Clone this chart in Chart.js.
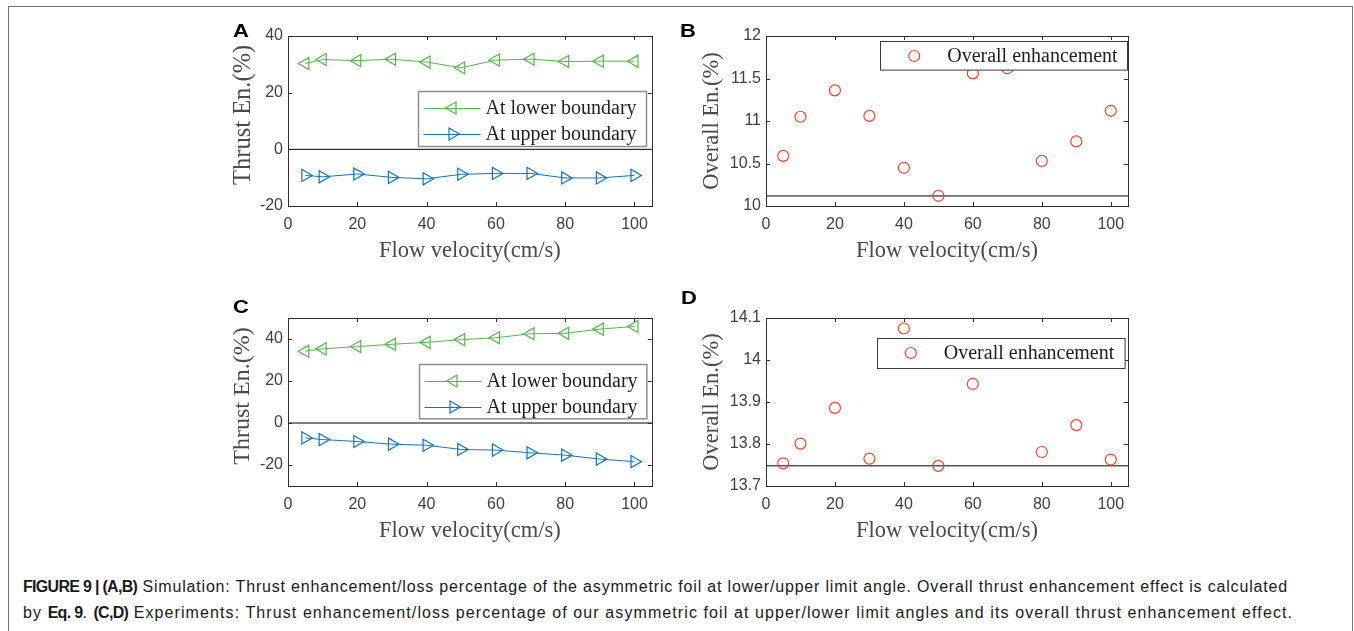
<!DOCTYPE html>
<html><head><meta charset="utf-8">
<script src="https://cdn.jsdelivr.net/npm/chart.js@4/dist/chart.umd.min.js"></script>
<style>
html,body{margin:0;padding:0;background:#fff;}
#page{position:relative;width:1354px;height:631px;overflow:hidden;background:#fff;}
#frame{position:absolute;left:8px;top:6px;width:1345px;height:700px;border:1px solid #737373;box-sizing:border-box;}
canvas{position:absolute;}
.plabel{position:absolute;font:bold 18px "Liberation Sans",Arial,sans-serif;color:#000;line-height:18px;transform:scaleX(1.22);transform-origin:0 0;}
#caption{position:absolute;left:23px;top:574px;font:16px "Liberation Sans",Arial,sans-serif;color:#1a1a1a;line-height:26px;white-space:nowrap;}
#caption b{font-size:16px;letter-spacing:-0.7px;}
</style></head>
<body><div id="page">
<div id="frame"></div>
<canvas id="cA" width="440" height="250" style="left:220px;top:20px"></canvas>
<canvas id="cB" width="450" height="250" style="left:690px;top:20px"></canvas>
<canvas id="cC" width="440" height="260" style="left:220px;top:290px"></canvas>
<canvas id="cD" width="450" height="260" style="left:690px;top:290px"></canvas>
<div class="plabel" style="left:233px;top:22px">A</div>
<div class="plabel" style="left:680px;top:22px">B</div>
<div class="plabel" style="left:233px;top:298px">C</div>
<div class="plabel" style="left:681px;top:289px">D</div>
<div id="caption">
<div class="ln" data-right="1288"><span class="w"><b>FIGURE 9 | (A,B)</b><span class="r"> Simulation: Thrust enhancement/loss percentage of the asymmetric foil at lower/upper limit angle. Overall thrust enhancement effect is calculated</span></span></div>
<div class="ln" data-right="1293"><span class="w"><span class="r">by </span><b>Eq. 9</b><span class="r">. </span><b>(C,D)</b><span class="r"> Experiments: Thrust enhancement/loss percentage of our asymmetric foil at upper/lower limit angles and its overall thrust enhancement effect.</span></span></div>
</div>
</div>
<script>
// ---- data ----
const velocity   = [5, 10, 20, 30, 40, 50, 60, 70, 80, 90, 100];
const simLower   = [30.3, 31.7, 31.3, 31.8, 30.8, 28.8, 31.5, 31.8, 31.0, 31.1, 31.1];
const simUpper   = [-9.2, -9.7, -8.7, -9.9, -10.4, -8.8, -8.5, -8.5, -10.1, -10.1, -9.2];
const simOverall = [10.59, 11.05, 11.36, 11.06, 10.45, 10.12, 11.56, 11.62, 10.53, 10.76, 11.12];
const expLower   = [34.2, 35.3, 36.4, 37.5, 38.4, 39.7, 40.6, 42.5, 42.7, 44.7, 46.0];
const expUpper   = [-7.1, -7.9, -8.8, -10.1, -10.6, -12.6, -12.9, -14.2, -15.3, -17.2, -18.4];
const expOverall = [13.754, 13.801, 13.886, 13.765, 14.075, 13.748, 13.943, 14.01, 13.781, 13.845, 13.763];
const baseA = 0, baseB = 10.118, baseC = 0, baseD = 13.748;
const xTicks  = [0, 20, 40, 60, 80, 100];
const xRange  = [0, 105];
const yTicksA = [-20, 0, 20, 40];          const yRangeA = [-20, 40];
const yTicksB = [10, 10.5, 11, 11.5, 12];  const yRangeB = [10, 12];
const yTicksC = [-20, 0, 20, 40];          const yRangeC = [-30, 50];
const yTicksD = [13.7, 13.8, 13.9, 14, 14.1]; const yRangeD = [13.7, 14.1];
const labelLower = 'At lower boundary', labelUpper = 'At upper boundary', labelOverall = 'Overall enhancement';
const xTitle = 'Flow velocity(cm/s)', yTitleThrust = 'Thrust En.(%)', yTitleOverall = 'Overall En.(%)';

// ---- styles ----
const GREEN = '#52B848', BLUE = '#1274C0', RED = '#EE4428';
const SERIF = "'Liberation Serif','Times New Roman',serif";
const SANS = "'Liberation Sans',Arial,sans-serif";

// caption spacing fit
document.querySelectorAll('.ln').forEach(ln=>{
  const w = ln.querySelector('.w'); const rs = ln.querySelectorAll('.r');
  const cur = w.getBoundingClientRect().right;
  let n = 0; rs.forEach(r=> n += r.textContent.length);
  const ls = (Number(ln.dataset.right) - cur)/n;
  rs.forEach(r=> r.style.letterSpacing = ls.toFixed(3)+'px');
});

function pts(xs, ys){ return xs.map((v,i)=>({x:v, y:ys[i]})); }
function hline(y){ return {data:[{x:xRange[0],y:y},{x:xRange[1],y:y}], borderColor:'#000', borderWidth:1, pointRadius:0, label:'', order:5}; }

function drawMarker(ctx, style, rot, r, x, y){
  ctx.beginPath();
  if (style === 'circle') { ctx.arc(x, y, r, 0, Math.PI*2); }
  else {
    let rad = rot*Math.PI/180;
    for (let k=0;k<3;k++){ const px = x + Math.sin(rad)*r, py = y - Math.cos(rad)*r; if(k===0) ctx.moveTo(px,py); else ctx.lineTo(px,py); rad += 2*Math.PI/3; }
    ctx.closePath();
  }
  ctx.stroke();
}

const boxPlugin = {
  id:'boxTicks',
  afterDatasetsDraw(chart){
    const {ctx, chartArea:a, scales} = chart;
    ctx.save();
    ctx.strokeStyle = '#303030'; ctx.lineWidth = 1;
    ctx.strokeRect(Math.round(a.left)+0.5, Math.round(a.top)+0.5, Math.round(a.right-a.left), Math.round(a.bottom-a.top));
    const L = 4;
    ctx.beginPath();
    scales.x.ticks.forEach(t=>{ const px = Math.round(scales.x.getPixelForValue(t.value))+0.5;
      ctx.moveTo(px, a.bottom); ctx.lineTo(px, a.bottom-L); ctx.moveTo(px, a.top); ctx.lineTo(px, a.top+L); });
    scales.y.ticks.forEach(t=>{ const py = Math.round(scales.y.getPixelForValue(t.value))+0.5;
      ctx.moveTo(a.left, py); ctx.lineTo(a.left+L, py); ctx.moveTo(a.right, py); ctx.lineTo(a.right-L, py); });
    ctx.stroke();
    ctx.restore();
  }
};

const legendPlugin = {
  id:'boxLegend',
  afterDraw(chart, args, o){
    if (!o || !o.items) return;
    const {ctx, chartArea:a} = chart;
    const x0 = Math.round(a.right - o.right - o.width)+0.5, y0 = Math.round(a.top + o.top)+0.5;
    ctx.save();
    ctx.fillStyle = '#fff'; ctx.fillRect(x0, y0, o.width, o.height);
    ctx.strokeStyle = o.borderColor; ctx.lineWidth = o.borderWidth; ctx.strokeRect(x0, y0, o.width, o.height);
    o.items.forEach((idx, i)=>{
      const ds = chart.data.datasets[idx];
      const ry = Math.round(y0 + o.rowTop + i*o.rowGap);
      ctx.strokeStyle = ds.borderColor; ctx.lineWidth = 1;
      if (ds.showLine !== false) { ctx.beginPath(); ctx.moveTo(x0+5, ry+0.5); ctx.lineTo(x0+62, ry+0.5); ctx.stroke(); }
      ctx.lineWidth = ds.pointBorderWidth;
      drawMarker(ctx, ds.pointStyle, ds.rotation||0, ds.pointRadius, x0+o.markerX, ry);
      ctx.fillStyle = '#1f1f1f'; ctx.font = '20px ' + SERIF; ctx.textBaseline = 'middle'; ctx.textAlign = 'left';
      ctx.fillText(ds.label, x0+o.textX, ry+1);
    });
    ctx.restore();
  }
};

function makeChart(id, cfg){
  const scales = {
    x: {type:'linear', min:xRange[0], max:xRange[1],
        afterBuildTicks: s=>{ s.ticks = xTicks.map(v=>({value:v})); },
        afterFit: s=>{ s.height = 64; },
        grid:{display:false, drawTicks:false}, border:{display:false},
        ticks:{font:{family:SANS,size:16}, color:'#404040', padding:9, maxRotation:0, callback:v=>String(v)},
        title:{display:true, text:xTitle, font:{family:SERIF,size:22.5}, color:'#4a4a4a', padding:{top:0,bottom:5}}},
    y: {type:'linear', min:cfg.yRange[0], max:cfg.yRange[1],
        afterBuildTicks: s=>{ s.ticks = cfg.yTicks.map(v=>({value:v})); },
        afterFit: s=>{ s.width = cfg.yWidth; },
        grid:{display:false, drawTicks:false}, border:{display:false},
        ticks:{font:{family:SANS,size:16}, color:'#404040', padding:5, callback:v=>String(v)},
        title:{display:true, text:cfg.yTitle, font:{family:SERIF,size:cfg.yTitleSize}, color:'#4a4a4a', padding:{top:cfg.yTitlePad,bottom:0}}}
  };
  return new Chart(document.getElementById(id), {
    type:'line',
    data:{datasets:cfg.datasets},
    options:{responsive:false, animation:false, devicePixelRatio:1,
      layout:{padding:{left:0, right:cfg.padRight, top:cfg.padTop, bottom:0}},
      scales,
      plugins:{legend:{display:false}, tooltip:{enabled:false}, boxLegend:cfg.legend},
      elements:{line:{tension:0}}},
    plugins:[boxPlugin, legendPlugin]
  });
}

function lineSet(label, ys, color, rot){
  return {label, data:pts(velocity, ys), borderColor:color, borderWidth:1, pointStyle:'triangle', rotation:rot,
    pointRadius:7, pointBorderWidth:1.2, pointBorderColor:color, pointBackgroundColor:'rgba(0,0,0,0)', order:1};
}
function scatterSet(label, ys){
  return {label, data:pts(velocity, ys), showLine:false, borderColor:RED, pointStyle:'circle', pointRadius:5.5,
    pointBorderWidth:1.2, pointBorderColor:RED, pointBackgroundColor:'rgba(0,0,0,0)', order:1};
}

makeChart('cA', {yRange:yRangeA, yTicks:yTicksA, yWidth:68, yTitle:'  '+yTitleThrust, yTitleSize:24.5, yTitlePad:8.5, padRight:8, padTop:16,
  datasets:[hline(baseA), lineSet(labelLower, simLower, GREEN, -90), lineSet(labelUpper, simUpper, BLUE, 90)],
  legend:{items:[1,2], width:228, height:55, right:6, top:54.7, rowTop:16.6, rowGap:26, markerX:34, textX:67, borderColor:'#8e8e8e', borderWidth:1.5}});
makeChart('cB', {yRange:yRangeB, yTicks:yTicksB, yWidth:76, yTitle:yTitleOverall, yTitleSize:22.5, yTitlePad:8.5, padRight:12, padTop:16,
  datasets:[hline(baseB), scatterSet(labelOverall, simOverall)],
  legend:{items:[1], width:247, height:28.6, right:1.3, top:4.7, rowTop:14.3, rowGap:0, markerX:33.7, textX:66.7, borderColor:'#3a3a3a', borderWidth:1}});
makeChart('cC', {yRange:yRangeC, yTicks:yTicksC, yWidth:68, yTitle:'  '+yTitleThrust, yTitleSize:24, yTitlePad:8.3, padRight:8, padTop:28,
  datasets:[hline(baseC), lineSet(labelLower, expLower, GREEN, -90), lineSet(labelUpper, expUpper, BLUE, 90)],
  legend:{items:[1,2], width:227.4, height:54.3, right:5.3, top:45.7, rowTop:16.7, rowGap:25.3, markerX:34, textX:67, borderColor:'#8e8e8e', borderWidth:1.5}});
makeChart('cD', {yRange:yRangeD, yTicks:yTicksD, yWidth:76, yTitle:yTitleOverall, yTitleSize:22.5, yTitlePad:8.2, padRight:12, padTop:28,
  datasets:[hline(baseD), scatterSet(labelOverall, expOverall)],
  legend:{items:[1], width:247.6, height:30, right:3.7, top:20, rowTop:14.7, rowGap:0, markerX:33.3, textX:66.3, borderColor:'#3a3a3a', borderWidth:1}});
</script>
</body></html>
